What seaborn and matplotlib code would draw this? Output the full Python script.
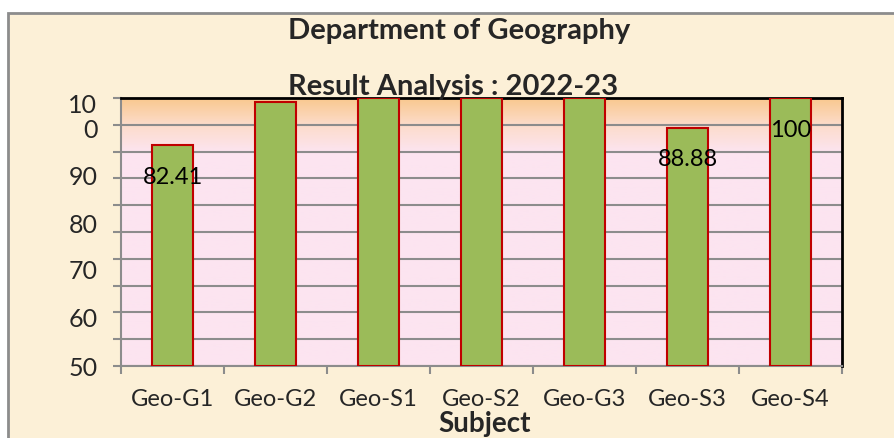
import matplotlib
matplotlib.use("Agg")
import matplotlib.pyplot as plt
import numpy as np
import pandas as pd
import seaborn as sns
from matplotlib.colors import LinearSegmentedColormap
from matplotlib.patches import Rectangle

# Chart data.
subjects = ["Geo-G1", "Geo-G2", "Geo-S1", "Geo-S2", "Geo-G3", "Geo-S3", "Geo-S4"]
pass_percent = [82.41, 98.5, 100, 100, 100, 88.88, 100]
bar_labels = ["82.41", "", "", "", "", "88.88", "100"]

# The y labels in the source are drawn out of step with the gridlines.
ytick_labels = ["50", "60", "70", "80", "90", "10\n0"]
ytick_label_pos = [0, 18.3, 36.2, 53.7, 71.6, 94.0]

sns.set_theme(style="white")
plt.rcParams["font.family"] = ["Lato", "DejaVu Sans"]

fig = plt.figure(figsize=(8.94, 4.39), dpi=100)
fig.patch.set_facecolor("white")

# Parchment coloured chart area with a grey frame.
fig.patches.append(Rectangle((8 / 894, -0.01), 1.0, (439 - 14) / 439 + 0.01,
                             transform=fig.transFigure, facecolor="#FCF0D7",
                             edgecolor="#8C8C8C", linewidth=2, zorder=-5))

ax = fig.add_axes([121 / 894, (439 - 367) / 439, 721 / 894, 268 / 439])
ax.set_zorder(2)
ax.set_facecolor("#FCE4F0")

# Orange to pink gradient at the top of the plot area.
cmap = LinearSegmentedColormap.from_list(
    "top", [(0.0, "#FCE4F0"), (0.8, "#FCE4F0"), (0.9, "#FCDCCB"), (1.0, "#F9C88F")])
grad = np.linspace(0, 1, 256).reshape(-1, 1)
ax.imshow(grad, cmap=cmap, aspect="auto", extent=[0, 1, 0, 1],
          transform=ax.transAxes, origin="lower", zorder=0)

df = pd.DataFrame({"subject": subjects, "value": pass_percent})
sns.barplot(data=df, x="subject", y="value", ax=ax, width=0.4,
            color="#9BBB59", saturation=1, edgecolor="#C00000", linewidth=1.5,
            zorder=3)
ax.bar_label(ax.containers[0], labels=bar_labels, padding=-30, fontsize=17,
             color="black", zorder=4)

ax.set_xlim(-0.5, len(subjects) - 0.5)
ax.set_ylim(0, 100)

# Gridlines and tick marks every 10 units, labels placed separately.
ax.yaxis.remove_overlapping_locs = False
ax.set_yticks(np.arange(0, 101, 10), labels=[""] * 11)
ax.yaxis.grid(True, color="#8C8C8C", linewidth=1.5, zorder=1)
ax.set_axisbelow(True)
ax.tick_params(axis="y", which="major", direction="out", length=6, width=1.5,
               color="#8C8C8C", left=True)
ax.set_yticks(ytick_label_pos, labels=ytick_labels, minor=True)
ax.tick_params(axis="y", which="minor", length=0, pad=17, labelsize=18)
for lbl in ax.get_yticklabels(minor=True):
    lbl.set_linespacing(1.1)

ax.set_xticks(range(len(subjects)), labels=subjects)
ax.tick_params(axis="x", which="major", length=0, pad=16, labelsize=17)
ax.set_xticks(np.arange(-0.5, len(subjects), 1), minor=True)
ax.tick_params(axis="x", which="minor", direction="out", length=6, width=1.5,
               color="#8C8C8C", bottom=True)

for side in ["left", "bottom"]:
    ax.spines[side].set_color("#8C8C8C")
    ax.spines[side].set_linewidth(1.5)
for side in ["top", "right"]:
    ax.spines[side].set_color("black")
    ax.spines[side].set_linewidth(2)

ax.set_xlabel("")
ax.set_ylabel("")

fig.text(459 / 894, 1 - 31 / 439, "Department of Geography", ha="center",
         va="center", fontsize=21, fontweight="bold")
fig.text(453 / 894, 1 - 87 / 439, "Result Analysis : 2022-23", ha="center",
         va="center", fontsize=21, fontweight="bold", zorder=3)
fig.text(485 / 894, 1 - 424 / 439, "Subject", ha="center", va="center",
         fontsize=20, fontweight="bold")

fig.savefig("out.png", dpi=100)
